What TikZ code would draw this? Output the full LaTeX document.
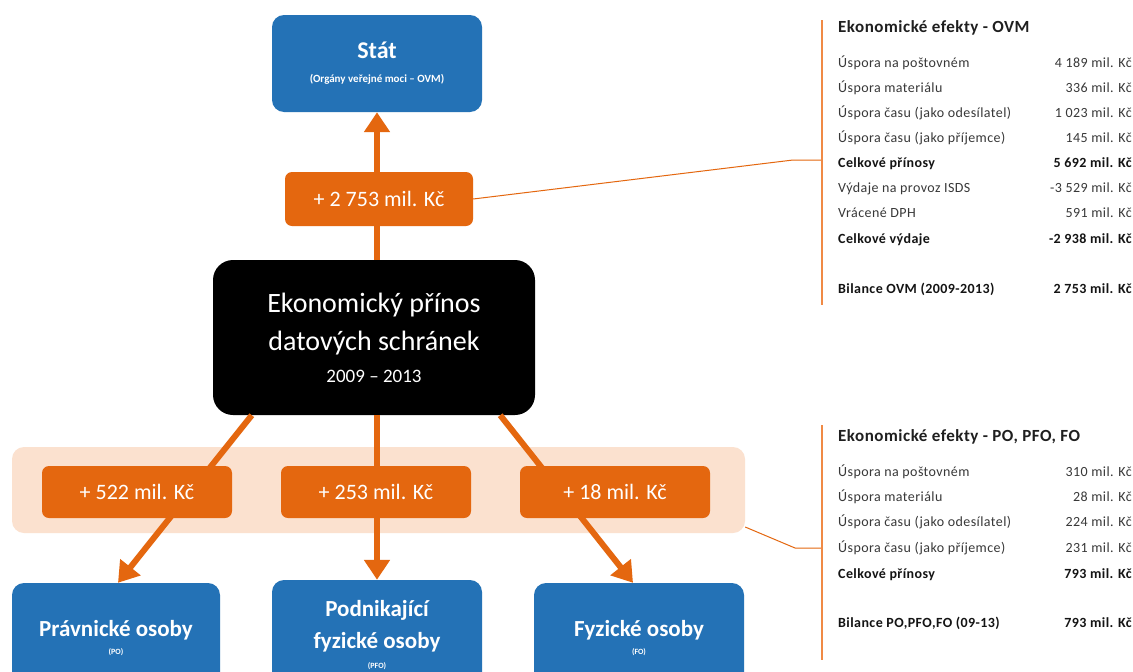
\documentclass[tikz,border=0pt]{standalone}
\usepackage{fontspec}
\setmainfont{Carlito}
\usetikzlibrary{arrows.meta}
\definecolor{boxblue}{HTML}{2472B6}
\definecolor{accorange}{HTML}{E4670F}
\definecolor{bandpeach}{HTML}{FBE1CF}
\definecolor{bracketorange}{HTML}{F08A45}
\newcommand{\fsz}[2]{\fontsize{#1}{#2}\selectfont}
\newcommand{\wide}{\addfontfeatures{LetterSpace=3}}
\tikzset{
  bluebox/.style={fill=boxblue, rounded corners=12pt, text=white, align=center, inner sep=0pt},
  gainbox/.style={fill=accorange, rounded corners=7pt, text=white, minimum width=190pt, minimum height=52pt, inner sep=0pt, font=\fsz{22}{24}},
  flowarrow/.style={draw=accorange, line width=6pt, -{Triangle[length=20pt,width=25pt]}},
  bracket/.style={draw=bracketorange, line width=1.3pt},
  hdr/.style={anchor=base west, inner sep=0pt, font=\bfseries\fsz{17}{19}\wide, text=black!88},
  row/.style={anchor=base west, inner sep=0pt, font=\fsz{14}{16}\wide, text=black!78},
  val/.style={anchor=base east, inner sep=0pt, font=\fsz{14}{16}\wide, text=black!78},
  boldrow/.style={text=black!92, font=\bfseries\fsz{14}{16}\wide}
}
\begin{document}
\begin{tikzpicture}[x=1pt,y=-1pt]
\clip (0,0) rectangle (1133,672);
\fill [white] (0,0) rectangle (1133,672);
% band behind the lower gains
\node [fill=bandpeach, rounded corners=12pt, minimum width=733pt, minimum height=86pt, inner sep=0pt] (band) at (378.5,490) {};
% boxes
\node [bluebox, minimum width=210pt, minimum height=97pt, font=\bfseries\fsz{24}{24}] (stat) at (377,63.5) {Stát\\{\fsz{11}{12}(Orgány veřejné moci -- OVM)}};
\node [fill=black, rounded corners=20pt, text=white, align=center, inner sep=0pt, minimum width=322pt, minimum height=155pt, font=\fsz{28}{38}] (prinos) at (374,337.5) {Ekonomický přínos\\datových schránek\\[-6pt]{\fsz{19}{22}2009 -- 2013}};
\node [bluebox, minimum width=208pt, minimum height=110pt, font=\bfseries\fsz{23}{18}] (po) at (116,638) {Právnické osoby\\{\fsz{8}{10}(PO)}};
\node [bluebox, minimum width=210pt, minimum height=110pt, font=\bfseries\fsz{23}{32}] (pfo) at (377,635) {Podnikající\\fyzické osoby\\[-12pt]{\fsz{8}{10}(PFO)}};
\node [bluebox, minimum width=210pt, minimum height=110pt, font=\bfseries\fsz{23}{18}] (fo) at (639,638) {Fyzické osoby\\{\fsz{8}{10}(FO)}};
% arrows
\draw [flowarrow] (prinos.north -| stat.south) -- (stat.south);
\draw [flowarrow] ([xshift=39pt]prinos.south west) -- ([xshift=2pt]po.north);
\draw [flowarrow] (prinos.south -| pfo.north) -- (pfo.north);
\draw [flowarrow] ([xshift=-35pt]prinos.south east) -- ([xshift=-6pt]fo.north);
% gains
\node [gainbox, minimum width=188pt, minimum height=54pt] (gainovm) at (379,199) {+ 2 753 mil. Kč};
\node [gainbox] (gainpo) at (137,492) {+ 522 mil. Kč};
\node [gainbox] (gainpfo) at (376,492) {+ 253 mil. Kč};
\node [gainbox] (gainfo) at (615,492) {+ 18 mil. Kč};
% connectors to the tables
\coordinate (kneeovm) at (793,160);
\coordinate (tabovm) at (822,160);
\draw [draw=accorange, line width=1pt] (gainovm.east) -- (kneeovm) -- (tabovm);
\draw [bracket] (822,20) -- (822,305);
\coordinate (kneefo) at (795,548);
\coordinate (tabfo) at (822,548);
\draw [draw=accorange, line width=1pt] (band.east |- 0,527) -- (kneefo) -- (tabfo);
\draw [bracket] (822,425) -- (822,660);
% table OVM
\node [hdr] (h1) at (838,32) {Ekonomické efekty - OVM};
\node [row] (a1) at (838,67) {Úspora na poštovném};
\node [val] (b1) at (1132,67) {4 189 mil. Kč};
\node [row] (a2) at (838,92) {Úspora materiálu};
\node [val] (b2) at (1132,92) {336 mil. Kč};
\node [row] (a3) at (838,117) {Úspora času (jako odesílatel)};
\node [val] (b3) at (1132,117) {1 023 mil. Kč};
\node [row] (a4) at (838,142) {Úspora času (jako příjemce)};
\node [val] (b4) at (1132,142) {145 mil. Kč};
\node [row, boldrow] (a5) at (838,167) {Celkové přínosy};
\node [val, boldrow] (b5) at (1132,167) {5 692 mil. Kč};
\node [row] (a6) at (838,192) {Výdaje na provoz ISDS};
\node [val] (b6) at (1132,192) {-3 529 mil. Kč};
\node [row] (a7) at (838,217) {Vrácené DPH};
\node [val] (b7) at (1132,217) {591 mil. Kč};
\node [row, boldrow] (a8) at (838,243) {Celkové výdaje};
\node [val, boldrow] (b8) at (1132,243) {-2 938 mil. Kč};
\node [row, boldrow] (a9) at (838,293) {Bilance OVM (2009-2013)};
\node [val, boldrow] (b9) at (1132,293) {2 753 mil. Kč};
% table PO, PFO, FO
\node [hdr] (h2) at (838,441) {Ekonomické efekty - PO, PFO, FO};
\node [row] (c1) at (838,476) {Úspora na poštovném};
\node [val] (d1) at (1132,476) {310 mil. Kč};
\node [row] (c2) at (838,501) {Úspora materiálu};
\node [val] (d2) at (1132,501) {28 mil. Kč};
\node [row] (c3) at (838,526) {Úspora času (jako odesílatel)};
\node [val] (d3) at (1132,526) {224 mil. Kč};
\node [row] (c4) at (838,552) {Úspora času (jako příjemce)};
\node [val] (d4) at (1132,552) {231 mil. Kč};
\node [row, boldrow] (c5) at (838,578) {Celkové přínosy};
\node [val, boldrow] (d5) at (1132,578) {793 mil. Kč};
\node [row, boldrow] (c6) at (838,627) {Bilance PO,PFO,FO (09-13)};
\node [val, boldrow] (d6) at (1132,627) {793 mil. Kč};
\end{tikzpicture}
\end{document}
